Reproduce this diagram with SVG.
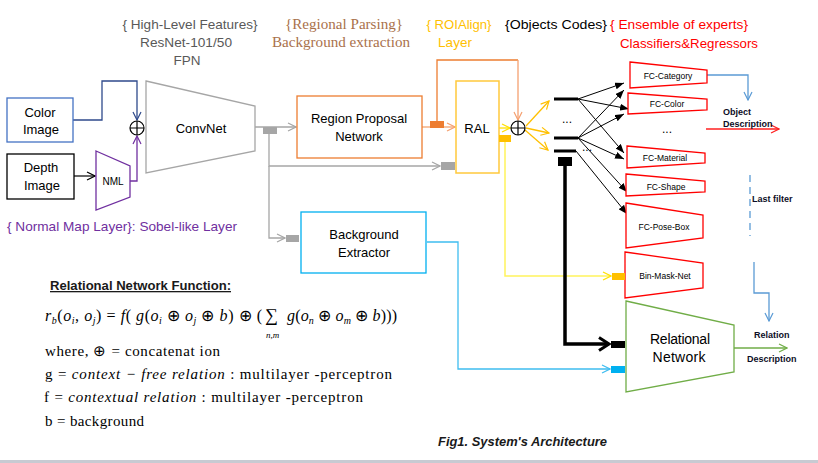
<svg xmlns="http://www.w3.org/2000/svg" width="818" height="463" viewBox="0 0 818 463">
<style>
text{font-family:"Liberation Sans",Arial,sans-serif;}
.lbl{font-size:13px;fill:#000;text-anchor:middle}
.hdr{font-size:13.5px;text-anchor:middle}
.serif{font-family:"Liberation Serif","Times New Roman",serif;font-size:15px;text-anchor:middle;fill:#A9714B}
.fc{font-size:8.5px;text-anchor:middle;fill:#000}
.sm{font-size:9px;font-weight:bold;fill:#0d0d26}
.math{font-family:"Liberation Serif","Times New Roman",serif;font-size:15px;fill:#000}
.fm{font-size:16px}
.it{font-style:italic}
.ln{fill:none}
.fcbox{fill:#fff;stroke:#ff0000;stroke-width:1.3}
.fan{stroke:#000;stroke-width:1;fill:none;marker-end:url(#tri)}
.bar{stroke:#000;stroke-width:3}
</style>
<defs>
<marker id="aGray" markerUnits="userSpaceOnUse" markerWidth="10" markerHeight="10" viewBox="0 0 10 10" refX="9" refY="5" orient="auto"><path d="M1,1 L9,5 L1,9" fill="none" stroke="#A6A6A6" stroke-width="1.2"/></marker>
<marker id="aNavy" markerUnits="userSpaceOnUse" markerWidth="10" markerHeight="10" viewBox="0 0 10 10" refX="9" refY="5" orient="auto"><path d="M1,1 L9,5 L1,9" fill="none" stroke="#2F4A8C" stroke-width="1.2"/></marker>
<marker id="aPurple" markerUnits="userSpaceOnUse" markerWidth="10" markerHeight="10" viewBox="0 0 10 10" refX="9" refY="5" orient="auto"><path d="M1,1 L9,5 L1,9" fill="none" stroke="#7030A0" stroke-width="1.2"/></marker>
<marker id="aBlack" markerUnits="userSpaceOnUse" markerWidth="10" markerHeight="10" viewBox="0 0 10 10" refX="9" refY="5" orient="auto"><path d="M1,1 L9,5 L1,9" fill="none" stroke="#000" stroke-width="1.2"/></marker>
<marker id="aOrange" markerUnits="userSpaceOnUse" markerWidth="10" markerHeight="10" viewBox="0 0 10 10" refX="9" refY="5" orient="auto"><path d="M1,1 L9,5 L1,9" fill="none" stroke="#F4A070" stroke-width="1.2"/></marker>
<marker id="aYellow" markerUnits="userSpaceOnUse" markerWidth="10" markerHeight="10" viewBox="0 0 10 10" refX="9" refY="5" orient="auto"><path d="M1,1 L9,5 L1,9" fill="none" stroke="#FFE000" stroke-width="1.2"/></marker>
<marker id="aGold" markerUnits="userSpaceOnUse" markerWidth="10" markerHeight="10" viewBox="0 0 10 10" refX="9" refY="5" orient="auto"><path d="M1,1 L9,5 L1,9" fill="none" stroke="#FFC000" stroke-width="1.2"/></marker>
<marker id="aLtBlue" markerUnits="userSpaceOnUse" markerWidth="10" markerHeight="10" viewBox="0 0 10 10" refX="9" refY="5" orient="auto"><path d="M1,1 L9,5 L1,9" fill="none" stroke="#3FBDF0" stroke-width="1.2"/></marker>
<marker id="aBlue" markerUnits="userSpaceOnUse" markerWidth="10" markerHeight="10" viewBox="0 0 10 10" refX="9" refY="5" orient="auto"><path d="M1,1 L9,5 L1,9" fill="none" stroke="#5B9BD5" stroke-width="1.2"/></marker>
<marker id="aRed" markerUnits="userSpaceOnUse" markerWidth="10" markerHeight="10" viewBox="0 0 10 10" refX="9" refY="5" orient="auto"><path d="M1,1 L9,5 L1,9" fill="none" stroke="#FF2020" stroke-width="1.2"/></marker>
<marker id="aGreen" markerUnits="userSpaceOnUse" markerWidth="10" markerHeight="10" viewBox="0 0 10 10" refX="9" refY="5" orient="auto"><path d="M1,1 L9,5 L1,9" fill="none" stroke="#70AD47" stroke-width="1.2"/></marker>
<marker id="aThick" markerUnits="userSpaceOnUse" markerWidth="14" markerHeight="16" viewBox="0 0 14 16" refX="12" refY="8" orient="auto"><path d="M2,1.5 L12,8 L2,14.5" fill="none" stroke="#000" stroke-width="3"/></marker>
<marker id="tri" markerUnits="userSpaceOnUse" markerWidth="9" markerHeight="7" viewBox="0 0 9 7" refX="9" refY="3.5" orient="auto"><path d="M0,0 L9,3.5 L0,7 z" fill="#000"/></marker>
</defs>

<!-- header labels -->
<g id="headers">
<text class="hdr" x="190" y="29" fill="#595959" textLength="135" lengthAdjust="spacingAndGlyphs">{ High-Level Features}</text>
<text class="hdr" x="186" y="47" fill="#595959" textLength="92" lengthAdjust="spacingAndGlyphs">ResNet-101/50</text>
<text class="hdr" x="187" y="65" fill="#595959">FPN</text>
<text class="serif" x="344" y="29" textLength="118" lengthAdjust="spacingAndGlyphs">{Regional Parsing}</text>
<text class="serif" x="341" y="47" textLength="138" lengthAdjust="spacingAndGlyphs">Background extraction</text>
<text class="hdr" x="459" y="29" fill="#FFC000" textLength="65" lengthAdjust="spacingAndGlyphs">{ ROIAlign}</text>
<text class="hdr" x="455" y="47" fill="#FFC000">Layer</text>
<text class="hdr" x="556" y="29" fill="#000" textLength="102" lengthAdjust="spacingAndGlyphs">{Objects Codes}</text>
<text class="hdr" x="679" y="29" fill="#FF0000" textLength="138" lengthAdjust="spacingAndGlyphs">{ Ensemble of experts}</text>
<text class="hdr" x="689" y="48" fill="#FF0000" textLength="138" lengthAdjust="spacingAndGlyphs">Classifiers&amp;Regressors</text>
<text x="7" y="231" style="font-size:13.5px" fill="#7030A0" textLength="230" lengthAdjust="spacingAndGlyphs">{ Normal Map Layer}: Sobel-like Layer</text>
</g>

<!-- connectors -->
<g id="connectors">
<polyline class="ln" points="73,120 102,120 102,81 137,81 137,120" stroke="#2F4A8C" stroke-width="1.3" marker-end="url(#aNavy)"/>
<line x1="74" y1="176" x2="95" y2="176" stroke="#000" stroke-width="1.2" marker-end="url(#aBlack)"/>
<polyline class="ln" points="130,181 137,181 137,136" stroke="#7030A0" stroke-width="1.3" marker-end="url(#aPurple)"/>
<line x1="255" y1="127" x2="296" y2="127" stroke="#A6A6A6" stroke-width="1.3" marker-end="url(#aGray)"/>
<polyline class="ln" points="269,134 269,166 440,166" stroke="#A6A6A6" stroke-width="1.3" marker-end="url(#aGray)"/>
<polyline class="ln" points="269,166 269,238 285,238" stroke="#A6A6A6" stroke-width="1.3" marker-end="url(#aGray)"/>
<line x1="422" y1="127" x2="455" y2="127" stroke="#F4B183" stroke-width="1.5" marker-end="url(#aOrange)"/>
<polyline class="ln" points="437,121 437,60 518,60" stroke="#ED7D31" stroke-width="1.3"/>
<line x1="518" y1="60" x2="518" y2="120" stroke="#F4A070" stroke-width="1.3" marker-end="url(#aOrange)"/>
<line x1="499" y1="128" x2="510" y2="128" stroke="#FFE000" stroke-width="1.3" marker-end="url(#aYellow)"/>
<polyline class="ln" points="505,142 505,276 611,276" stroke="#FFF45C" stroke-width="1.5" marker-end="url(#aYellow)"/>
<line x1="526" y1="126" x2="549" y2="101" stroke="#FFC000" stroke-width="1.3" marker-end="url(#aGold)"/>
<line x1="526" y1="128" x2="549" y2="133" stroke="#FFC000" stroke-width="1.3" marker-end="url(#aGold)"/>
<line x1="525" y1="130" x2="548" y2="150" stroke="#FFC000" stroke-width="1.3" marker-end="url(#aGold)"/>
<line class="fan" x1="578" y1="99" x2="624" y2="83"/>
<line class="fan" x1="578" y1="99" x2="629" y2="109"/>
<line class="fan" x1="578" y1="99" x2="624" y2="153"/>
<line class="fan" x1="578" y1="138" x2="624" y2="90"/>
<line class="fan" x1="578" y1="138" x2="624" y2="114"/>
<line class="fan" x1="578" y1="138" x2="624" y2="159"/>
<line class="fan" x1="578" y1="138" x2="627" y2="192"/>
<line class="fan" x1="576" y1="151" x2="627" y2="214"/>
<polyline class="ln" points="565,166 565,344 609,344" stroke="#000" stroke-width="3.5" marker-end="url(#aThick)"/>
<polyline class="ln" points="427,242 458,242 458,369 610,369" stroke="#3FBDF0" stroke-width="1.3" marker-end="url(#aLtBlue)"/>
<polyline class="ln" points="707,75 748,75 748,100" stroke="#5B9BD5" stroke-width="1.3" marker-end="url(#aBlue)"/>
<line x1="706" y1="129" x2="779" y2="129" stroke="#FF2020" stroke-width="1.5" marker-end="url(#aRed)"/>
<line x1="750" y1="175" x2="750" y2="236" stroke="#5B9BD5" stroke-width="1.3" stroke-dasharray="7,5"/>
<polyline class="ln" points="754,262 754,293 769,293 769,321" stroke="#5B9BD5" stroke-width="1.3" marker-end="url(#aBlue)"/>
<line x1="734" y1="348" x2="787" y2="348" stroke="#70AD47" stroke-width="1.3" marker-end="url(#aGreen)"/>
</g>

<!-- nodes -->
<g id="color-image">
<rect x="7" y="98" width="66" height="44" fill="#fff" stroke="#4472C4" stroke-width="1.3"/>
<text class="lbl" x="40" y="117">Color</text>
<text class="lbl" x="41" y="134">Image</text>
</g>
<g id="depth-image">
<rect x="7" y="154" width="67" height="45" fill="#fff" stroke="#000" stroke-width="1.3"/>
<text class="lbl" x="41" y="172">Depth</text>
<text class="lbl" x="42" y="190">Image</text>
</g>
<g id="nml">
<polygon points="96,151 130,166 130,197 96,210" fill="#fff" stroke="#7030A0" stroke-width="1.3"/>
<text x="113" y="185" style="font-size:10px;text-anchor:middle">NML</text>
</g>
<g id="concat1">
<circle cx="137" cy="128" r="7" fill="#fff" stroke="#000" stroke-width="1.2"/>
<path d="M130,128 H144 M137,121 V135" stroke="#000" stroke-width="1.2"/>
</g>
<g id="convnet">
<polygon points="146,81 255,106 255,151 146,173" fill="#fff" stroke="#A6A6A6" stroke-width="1.3"/>
<text class="lbl" x="201" y="133">ConvNet</text>
<rect x="263" y="127" width="14" height="7" fill="#A6A6A6"/>
</g>
<g id="rpn">
<rect x="297" y="96" width="125" height="62" fill="#fff" stroke="#ED7D31" stroke-width="1.3"/>
<text class="lbl" x="359" y="123">Region Proposal</text>
<text class="lbl" x="359" y="141">Network</text>
</g>
<g id="ral">
<rect x="456" y="81" width="43" height="92" fill="#fff" stroke="#FFC93C" stroke-width="1.5"/>
<text class="lbl" x="477" y="133">RAL</text>
<rect x="430" y="121" width="14" height="7" fill="#ED7D31"/>
<rect x="441" y="162" width="14" height="8" fill="#A6A6A6"/>
<rect x="499" y="135" width="12" height="7" fill="#FFC000"/>
</g>
<g id="concat2">
<circle cx="518" cy="128" r="7" fill="#fff" stroke="#000" stroke-width="1.2"/>
<path d="M511,128 H525 M518,121 V135" stroke="#000" stroke-width="1.2"/>
</g>
<g id="background-extractor">
<rect x="301" y="212" width="125" height="61" fill="#fff" stroke="#00B0F0" stroke-width="1.3"/>
<text class="lbl" x="364" y="239">Background</text>
<text class="lbl" x="364" y="257">Extractor</text>
<rect x="286" y="235" width="13" height="7" fill="#A6A6A6"/>
</g>
<g id="object-codes">
<line class="bar" x1="554" y1="99" x2="578" y2="99"/>
<line class="bar" x1="554" y1="138" x2="578" y2="138"/>
<line class="bar" x1="554" y1="151" x2="576" y2="151"/>
<rect x="558" y="157" width="14" height="9" fill="#000"/>
<text x="567" y="123" style="font-size:12px;text-anchor:middle">...</text>
<text x="587" y="151" style="font-size:12px;text-anchor:middle">...</text>
</g>
<g id="fc-category">
<polygon class="fcbox" points="630,62 707,70 707,83 630,88"/>
<text class="fc" x="668" y="79">FC-Category</text>
</g>
<g id="fc-color">
<polygon class="fcbox" points="628,93 707,99 707,110 628,114"/>
<text class="fc" x="667" y="107">FC-Color</text>
</g>
<text x="667" y="133" style="font-size:12px;text-anchor:middle">...</text>
<g id="fc-material">
<polygon class="fcbox" points="627,146 705,153 705,163 627,168"/>
<text class="fc" x="665" y="161">FC-Material</text>
</g>
<g id="fc-shape">
<polygon class="fcbox" points="626,174 705,181 705,192 626,196"/>
<text class="fc" x="666" y="190">FC-Shape</text>
</g>
<g id="fc-pose-box">
<polygon class="fcbox" points="626,203 703,215 703,238 626,248"/>
<text class="fc" x="664" y="230">FC-Pose-Box</text>
</g>
<g id="bin-mask-net">
<polygon class="fcbox" points="625,252 703,263 703,288 625,298"/>
<text class="fc" x="665" y="279">Bin-Mask-Net</text>
<rect x="612" y="273" width="13" height="7" fill="#FFC000"/>
</g>
<g id="relational-network">
<polygon points="626,301 734,325 734,372 626,392" fill="#fff" stroke="#70AD47" stroke-width="1.3"/>
<text class="lbl" x="680" y="344" style="font-size:14px" textLength="60" lengthAdjust="spacing">Relational</text>
<text class="lbl" x="679" y="362" style="font-size:14px" textLength="53" lengthAdjust="spacing">Network</text>
<rect x="611" y="341" width="14" height="7" fill="#000"/>
<rect x="611" y="366" width="14" height="7" fill="#00B0F0"/>
</g>
<g id="labels">
<text class="sm" x="723" y="115">Object</text>
<text class="sm" x="723" y="127">Description</text>
<text class="sm" x="752" y="202">Last filter</text>
<text class="sm" x="754" y="338">Relation</text>
<text class="sm" x="747" y="362">Description</text>
</g>

<!-- formula -->
<g id="formula">
<text x="50" y="290" style="font-size:13px;font-weight:bold;text-decoration:underline" fill="#1a1a1a" textLength="181" lengthAdjust="spacingAndGlyphs">Relational Network Function:</text>
<text class="math fm" x="45" y="321" textLength="217" lengthAdjust="spacing"><tspan class="it">r</tspan><tspan class="it" dy="3" style="font-size:10px">b</tspan><tspan dy="-3">(</tspan><tspan class="it">o</tspan><tspan class="it" dy="3" style="font-size:10px">i</tspan><tspan dy="-3">, </tspan><tspan class="it">o</tspan><tspan class="it" dy="3" style="font-size:10px">j</tspan><tspan dy="-3">) = </tspan><tspan class="it">f</tspan><tspan>( </tspan><tspan class="it">g</tspan><tspan>(</tspan><tspan class="it">o</tspan><tspan class="it" dy="3" style="font-size:10px">i</tspan><tspan dy="-3"> ⊕ </tspan><tspan class="it">o</tspan><tspan class="it" dy="3" style="font-size:10px">j</tspan><tspan dy="-3"> ⊕ </tspan><tspan class="it">b</tspan><tspan>) ⊕ (</tspan></text>
<text class="math" x="265" y="321" style="font-size:18px">∑</text>
<text class="math it" x="266" y="338" style="font-size:9px">n,m</text>
<text class="math fm" x="287" y="321" textLength="110" lengthAdjust="spacing"><tspan class="it">g</tspan><tspan>(</tspan><tspan class="it">o</tspan><tspan class="it" dy="3" style="font-size:10px">n</tspan><tspan dy="-3"> ⊕ </tspan><tspan class="it">o</tspan><tspan class="it" dy="3" style="font-size:10px">m</tspan><tspan dy="-3"> ⊕ </tspan><tspan class="it">b</tspan><tspan>)))</tspan></text>
<text class="math" x="45" y="356" textLength="175" lengthAdjust="spacing">where,  ⊕ = concatenat   ion</text>
<text class="math" x="45" y="379" textLength="347" lengthAdjust="spacing">g = <tspan class="it">context − free   relation</tspan>  : multilayer     -perceptron</text>
<text class="math" x="44" y="402" textLength="319" lengthAdjust="spacing">f  = <tspan class="it">contextual   relation</tspan>  : multilayer     -perceptron</text>
<text class="math" x="45" y="426" textLength="99" lengthAdjust="spacing">b = background</text>
</g>

<text x="438" y="446" style="font-size:13px;font-weight:bold;font-style:italic" fill="#1a1a1a" textLength="169" lengthAdjust="spacingAndGlyphs">Fig1. System's Architecture</text>
<rect x="0" y="460" width="818" height="3" fill="#C8CAD2"/>
</svg>
